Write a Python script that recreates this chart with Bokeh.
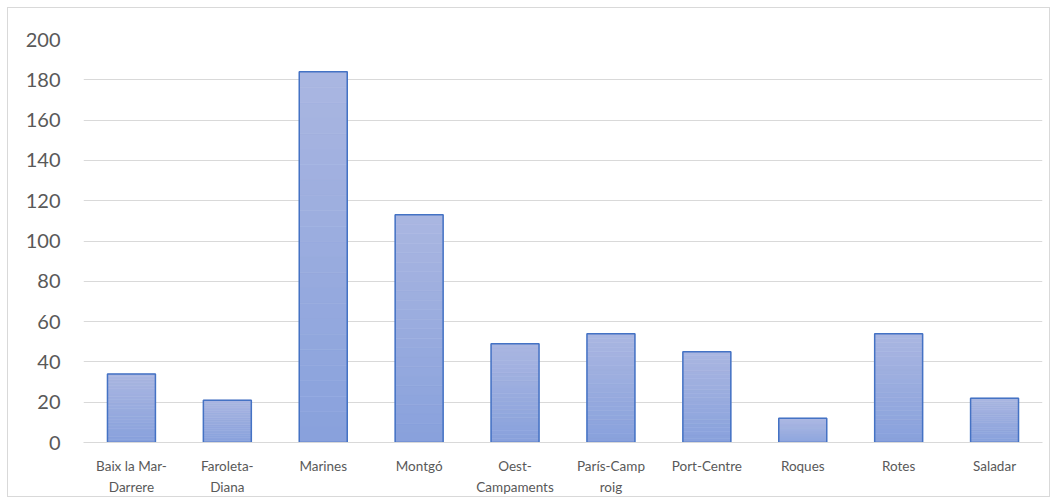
from bokeh.plotting import figure
from bokeh.models import Range1d, FixedTicker, SingleIntervalTicker, ColumnDataSource
from bokeh.embed import file_html
from bokeh.resources import INLINE

categories = ["Baix la Mar-Darrere", "Faroleta-Diana", "Marines", "Montgó",
              "Oest-Campaments", "París-Camp roig", "Port-Centre", "Roques",
              "Rotes", "Saladar"]
tick_labels = ["Baix la Mar-\nDarrere", "Faroleta-\nDiana", "Marines", "Montgó",
               "Oest-\nCampaments", "París-Camp\nroig", "Port-Centre", "Roques",
               "Rotes", "Saladar"]
values = [34, 21, 184, 113, 49, 54, 45, 12, 54, 22]

xs = list(range(len(categories)))

p = figure(x_range=Range1d(-0.5, len(categories) - 0.5), y_range=Range1d(0, 200),
           width=1043, height=490, output_backend="svg", toolbar_location=None,
           min_border_left=75, min_border_right=9, min_border_top=31, min_border_bottom=54)
p.styles = {"border": "1px solid #d9d9d9", "margin-left": "7px", "margin-top": "7px"}
p.outline_line_color = None
p.background_fill_color = "white"
p.border_fill_color = "white"

# gradient fill, light at top to darker at bottom, in slices per bar
n = 24
top_c = (0xAA, 0xB6, 0xE1)
bot_c = (0x88, 0xA1, 0xDC)
for k in range(n):
    f0 = k / n
    f1 = (k + 1) / n
    t = (k + 0.5) / n
    col = "#%02x%02x%02x" % tuple(int(round(b + (a - b) * t)) for a, b in zip(top_c, bot_c))
    src = ColumnDataSource(dict(x=xs,
                                top=[v * f1 for v in values],
                                bottom=[v * f0 for v in values]))
    p.vbar(x="x", top="top", bottom="bottom", width=0.5, source=src,
           fill_color=col, line_color=col, line_width=0.6)

p.vbar(x=xs, top=values, width=0.5, fill_color=None,
       line_color="#4472c4", line_width=1.5)

p.ygrid.grid_line_color = "#d9d9d9"
p.ygrid.grid_line_width = 1
p.xgrid.grid_line_color = None

p.yaxis.ticker = SingleIntervalTicker(interval=20)
p.yaxis.axis_line_color = None
p.yaxis.major_tick_line_color = None
p.yaxis.minor_tick_line_color = None
p.yaxis.major_label_text_font = "Lato"
p.yaxis.major_label_text_font_size = "20px"
p.yaxis.major_label_text_color = "#595959"
p.yaxis.major_label_standoff = 17

p.xaxis.ticker = FixedTicker(ticks=xs)
p.xaxis.axis_line_color = "#d9d9d9"
p.xaxis.major_tick_line_color = None
p.xaxis.minor_tick_line_color = None
p.xaxis.major_label_text_font = "Lato"
p.xaxis.major_label_text_font_size = "13.5px"
p.xaxis.major_label_text_line_height = 1.35
p.xaxis.major_label_text_color = "#595959"
p.xaxis.major_label_standoff = 9
p.xaxis.major_label_overrides = {x: lbl for x, lbl in zip(xs, tick_labels)}

open("out.html", "w").write(file_html(p, INLINE))
